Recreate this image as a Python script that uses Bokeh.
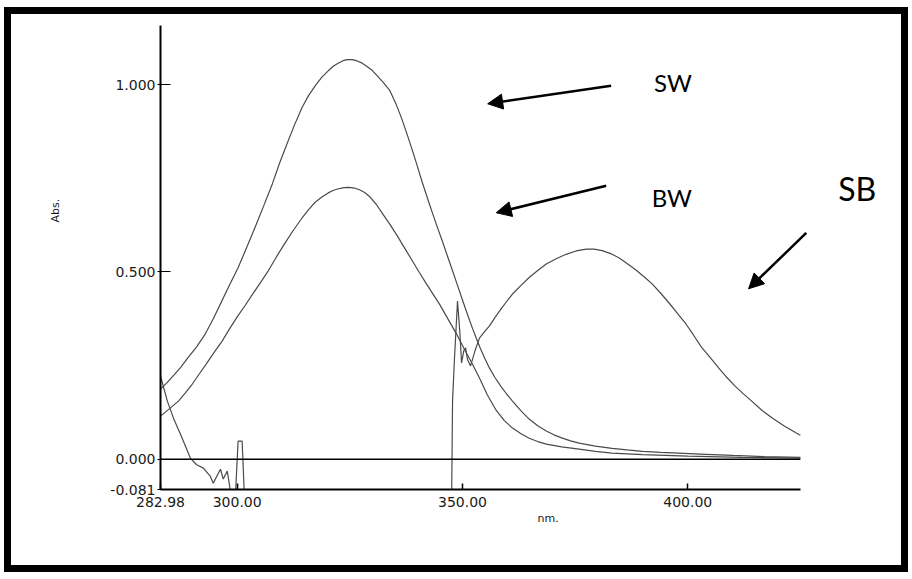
from bokeh.plotting import figure
from bokeh.models import (Range1d, FixedTicker, PrintfTickFormatter, Label, Arrow, NormalHead,
                          Title, InlineStyleSheet)
from bokeh.embed import file_html
from bokeh.resources import INLINE

# ---- data ----
sw_nm = [282.98, 284.5, 286.0, 287.5, 289.0, 291.0, 292.9, 294.7, 296.5, 298.3, 300.2, 302.1,
         304.0, 305.9, 307.8, 309.4, 311.0, 312.7, 314.4, 315.8, 317.3, 318.8, 320.2, 321.4,
         322.5, 323.5, 324.4, 325.5, 326.5, 327.5, 328.5, 329.8, 331.0, 332.5, 333.9, 335.2,
         336.5, 337.7, 338.9, 340.0, 341.0, 342.2, 343.4, 344.5, 345.6, 346.7, 347.8, 348.9,
         350.0, 351.1, 352.2, 353.1, 354.0, 355.0, 356.0, 357.2, 358.5, 359.8, 361.1, 363.0,
         364.8, 366.7, 368.6, 370.3, 372.0, 374.0, 375.9, 379.5, 383.2, 386.5, 390.0, 394.0,
         398.0, 404.0, 410.0, 417.0, 425.0]
sw_abs = [0.187, 0.205, 0.225, 0.246, 0.270, 0.300, 0.334, 0.375, 0.420, 0.465, 0.511, 0.565,
          0.620, 0.677, 0.735, 0.790, 0.840, 0.892, 0.939, 0.970, 0.997, 1.020, 1.037, 1.050,
          1.058, 1.064, 1.067, 1.067, 1.064, 1.059, 1.051, 1.040, 1.025, 1.005, 0.984, 0.950,
          0.910, 0.868, 0.824, 0.782, 0.742, 0.698, 0.655, 0.617, 0.580, 0.541, 0.503, 0.464,
          0.425, 0.387, 0.350, 0.322, 0.295, 0.268, 0.243, 0.218, 0.195, 0.174, 0.155, 0.129,
          0.107, 0.089, 0.075, 0.065, 0.057, 0.049, 0.043, 0.035, 0.029, 0.025, 0.021, 0.018,
          0.016, 0.013, 0.010, 0.007, 0.005]

bw_nm = [282.98, 285.0, 286.96, 288.5, 290.0, 291.5, 293.0, 294.8, 296.7, 298.3, 300.0, 301.8,
         303.5, 305.2, 306.9, 308.7, 310.5, 312.5, 314.4, 315.9, 317.3, 318.8, 320.2, 321.4,
         322.5, 323.7, 324.8, 326.0, 327.0, 328.3, 329.5, 330.9, 332.3, 333.9, 335.5, 337.2,
         338.9, 340.4, 341.9, 343.4, 344.9, 346.8, 348.7, 350.4, 352.2, 353.8, 355.5, 357.5,
         359.3, 361.1, 363.0, 364.8, 366.7, 368.6, 372.0, 375.9, 379.5, 383.2, 390.0, 400.0,
         412.0, 425.0]
bw_abs = [0.115, 0.135, 0.155, 0.177, 0.200, 0.226, 0.252, 0.284, 0.316, 0.348, 0.380, 0.411,
          0.442, 0.472, 0.503, 0.540, 0.575, 0.612, 0.644, 0.667, 0.686, 0.700, 0.711, 0.718,
          0.722, 0.725, 0.726, 0.724, 0.720, 0.712, 0.700, 0.680, 0.655, 0.627, 0.597, 0.563,
          0.529, 0.499, 0.470, 0.442, 0.414, 0.374, 0.334, 0.294, 0.254, 0.216, 0.172, 0.130,
          0.103, 0.083, 0.068, 0.056, 0.047, 0.040, 0.033, 0.027, 0.021, 0.016, 0.012, 0.008,
          0.005, 0.003]

sb_nm = [282.98, 284.5, 286.0, 287.4, 289.6, 291.0, 292.5, 294.0, 294.7, 295.5, 296.3, 296.9,
         297.8, 298.7, 299.6, 300.2, 301.1, 301.6, 347.6, 347.8, 348.2, 348.9, 349.4, 349.8,
         350.3, 350.7, 351.1, 351.8, 352.8, 353.8, 355.0, 356.0, 357.2, 358.5, 359.8, 361.1,
         363.0, 364.8, 366.7, 368.6, 370.8, 373.0, 375.2, 377.5, 379.2, 381.0, 382.9, 384.8,
         386.6, 388.5, 390.3, 392.1, 394.0, 396.0, 397.8, 399.6, 401.3, 403.0, 405.0, 406.9,
         408.7, 410.5, 412.3, 414.2, 416.5, 419.0, 421.5, 424.1, 425.0]
sb_abs = [0.222, 0.155, 0.105, 0.067, 0.003, -0.015, -0.024, -0.045, -0.064, -0.045, -0.027, -0.053,
          -0.032, -0.100, -0.100, 0.048, 0.048, -0.100, -0.100, 0.155, 0.262, 0.422, 0.342, 0.257,
          0.290, 0.297, 0.267, 0.249, 0.290, 0.324, 0.342, 0.356, 0.378, 0.400, 0.421, 0.441,
          0.464, 0.485, 0.504, 0.521, 0.535, 0.547, 0.556, 0.561, 0.561, 0.557, 0.549, 0.537,
          0.522, 0.505, 0.487, 0.468, 0.443, 0.415, 0.388, 0.361, 0.331, 0.300, 0.271, 0.243,
          0.218, 0.195, 0.175, 0.155, 0.130, 0.108, 0.088, 0.070, 0.064]

x_ticks = [282.98, 300.0, 350.0, 400.0]
y_ticks = [-0.081, 0.0, 0.5, 1.0]
x_min, x_max = 282.98, 425.0     # scanned wavelength span (axis extent)
y_min, y_max = -0.081, 1.158
x_view_max = 445.0               # extra room on the right for the "SB" note

baseline_nm = [x_min, x_max]
baseline_abs = [0.0, 0.0]

TICK_FONT = "DejaVu Sans"
NOTE_FONT = "Lato"
INK = "#1a1a1a"

p = figure(width=912, height=573, output_backend="svg", toolbar_location=None,
           x_range=Range1d(x_min, x_view_max), y_range=Range1d(y_min, y_max),
           min_border_left=160, min_border_right=22, min_border_top=22, min_border_bottom=87)
p.styles = {"margin-top": "3px", "position": "relative"}
# thick black frame around the whole picture, drawn on top of the canvas
frame_css = ("content: ''; position: absolute; left: 4px; top: 4px; right: 4px; bottom: 4px; "
             "border: 7px solid black; box-sizing: border-box; pointer-events: none; z-index: 100;")
p.stylesheets = [InlineStyleSheet(css=":host::after {" + frame_css + "}"),
                 InlineStyleSheet(css=".bk-Canvas::after {" + frame_css + "}")]
p.outline_line_color = None
p.grid.visible = False
p.background_fill_color = "white"
p.border_fill_color = "white"

curve_color = "#4a4a4a"
p.line(sw_nm, sw_abs, line_color=curve_color, line_width=1.2)
p.line(bw_nm, bw_abs, line_color=curve_color, line_width=1.2)
p.line(sb_nm, sb_abs, line_color=curve_color, line_width=1.2)
p.line(baseline_nm, baseline_abs, line_color="black", line_width=1.5)

# axes
p.xaxis.bounds = (x_min, x_max)
p.xaxis.ticker = FixedTicker(ticks=x_ticks)
p.xaxis.formatter = PrintfTickFormatter(format="%.2f")
p.xaxis.major_tick_in = 6
p.xaxis.major_tick_out = 0
p.xaxis.minor_tick_line_color = None
p.xaxis.axis_line_width = 2
p.xaxis.major_tick_line_width = 1.5
p.xaxis.major_label_standoff = 7
p.xaxis.major_label_text_font = TICK_FONT
p.xaxis.major_label_text_font_size = "14px"
p.xaxis.major_label_text_color = INK

p.yaxis.bounds = (y_min, y_max)
p.yaxis.ticker = FixedTicker(ticks=y_ticks)
p.yaxis.formatter = PrintfTickFormatter(format="%.3f")
p.yaxis.major_tick_in = 10
p.yaxis.major_tick_out = 3
p.yaxis.minor_tick_line_color = None
p.yaxis.axis_line_width = 2
p.yaxis.major_tick_line_width = 1.2
p.yaxis.major_label_standoff = 2
p.yaxis.major_label_text_font = TICK_FONT
p.yaxis.major_label_text_font_size = "14px"
p.yaxis.major_label_text_color = INK

p.add_layout(Title(text="Abs.", align="left", offset=267, standoff=92, text_font=TICK_FONT,
                   text_font_size="11px", text_font_style="normal", text_color=INK), "left")
p.add_layout(Title(text="nm.", align="left", offset=377, standoff=0, text_font=TICK_FONT,
                   text_font_size="11px", text_font_style="normal", text_color=INK), "below")

# annotations
for txt, lx, ly, size in [("SW", 392.5, 1.005, "24px"), ("BW", 392.0, 0.698, "24px"),
                          ("SB", 433.4, 0.722, "32px")]:
    p.add_layout(Label(x=lx, y=ly, text=txt, text_font=NOTE_FONT, text_font_size=size,
                       text_color="black", text_baseline="alphabetic"))

for xs, ys, xe, ye in [(383.0, 0.997, 355.6, 0.949), (381.9, 0.730, 357.5, 0.658),
                       (426.3, 0.604, 413.5, 0.455)]:
    p.add_layout(Arrow(end=NormalHead(size=15, fill_color="black", line_color="black"),
                       x_start=xs, y_start=ys, x_end=xe, y_end=ye,
                       line_color="black", line_width=2.5))

open("out.html", "w").write(file_html(p, INLINE))
